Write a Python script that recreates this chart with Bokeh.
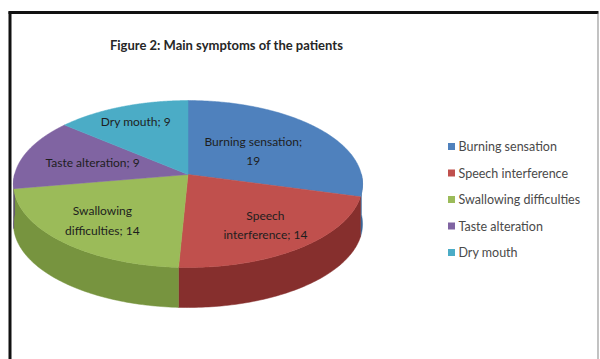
import textwrap
import numpy as np
from bokeh.plotting import figure
from bokeh.models import Range1d
from bokeh.core.properties import value
from bokeh.embed import file_html
from bokeh.resources import INLINE

# ---- data ----
title_text = "Figure 2: Main symptoms of the patients"
categories = ["Burning sensation", "Speech interference", "Swallowing difficulties",
              "Taste alteration", "Dry mouth"]
counts = [19, 14, 14, 9, 9]

# ---- style / layout ----
top_colors = ["#4F81BD", "#C0504D", "#9BBB59", "#8064A2", "#4BACC6"]
side_colors = ["#3A6596", "#862F2D", "#77943F", "#5E4A7D", "#35889F"]
label_radius = [0.49, 0.71, 0.70, 0.58, 0.77]   # radial position of labels
FONT = "Lato"

W, H = 600, 359
cx, cy = 187.5, 174.0        # projected pie centre (pixels)
A, B, k = 173.4, 82.4, 0.114  # horizontal / vertical radii and perspective
depth = 40                   # thickness of the 3D pie


def proj(theta, f=1.0):
    X = f * np.cos(theta)
    Z = f * np.sin(theta)
    w = 1 + k * Z
    return cx + A * X / w, cy - B * Z / w


p = figure(width=W, height=H, output_backend="svg", toolbar_location=None,
           x_range=Range1d(0, W), y_range=Range1d(H, 0),
           x_axis_type=None, y_axis_type=None, min_border=0)
p.outline_line_color = None
p.xgrid.visible = False
p.ygrid.visible = False
p.background_fill_color = "white"
p.border_fill_color = "white"

# frame of the original chart box
p.segment(x0=[9.5, 8], y0=[11, 12], x1=[9.5, 598], y1=[H + 5, 12],
          line_color="#111111", line_width=3)
p.segment(x0=[597.5], y0=[13], x1=[597.5], y1=[H + 5],
          line_color="#9a9a9a", line_width=1.2)

total = float(sum(counts))
cum = np.concatenate([[0], np.cumsum(counts)])
t_start = np.pi / 2 - 2 * np.pi * cum[:-1] / total
t_end = np.pi / 2 - 2 * np.pi * cum[1:] / total

# side walls (front half only)
side_xs, side_ys, side_cols = [], [], []
for i in range(len(counts)):
    hi = min(t_start[i], 0.0)
    lo = max(t_end[i], -np.pi)
    if hi <= lo:
        continue
    th = np.linspace(hi, lo, 80)
    x, y = proj(th)
    side_xs.append(list(x) + list(x[::-1]))
    side_ys.append(list(y) + list((y + depth)[::-1]))
    side_cols.append(side_colors[i])
p.patches(side_xs, side_ys, fill_color=side_cols, line_color=side_cols,
          line_width=0.5)

# top faces
top_xs, top_ys = [], []
for i in range(len(counts)):
    th = np.linspace(t_start[i], t_end[i], 160)
    x, y = proj(th)
    ax, ay = proj(0.0, 0.0)
    top_xs.append([ax] + list(x))
    top_ys.append([ay] + list(y))
p.patches(top_xs, top_ys, fill_color=top_colors, line_color=top_colors,
          line_width=0.5)

# data labels
mid = (t_start + t_end) / 2
lx, ly = [], []
for i in range(len(counts)):
    x, y = proj(mid[i], label_radius[i])
    lx.append(float(x))
    ly.append(float(y))
labels = ["\n".join(textwrap.wrap(f"{c}; {v}", 19)) for c, v in zip(categories, counts)]
p.text(x=lx, y=ly, text=labels, text_align="center", text_baseline="middle",
       text_font=value(FONT), text_font_size="12px", text_color="#1e1e1e",
       text_line_height=1.3)

# title
p.text(x=[226], y=[44], text=[title_text], text_align="center",
       text_baseline="middle", text_font=value(FONT), text_font_size="13px",
       text_font_style="bold", text_color="#262626")

# legend
leg_y = [146 + 26.5 * i for i in range(len(categories))]
p.rect(x=[451] * len(categories), y=leg_y, width=7, height=7,
       width_units="screen", height_units="screen",
       fill_color=top_colors, line_color=None)
p.text(x=[458] * len(categories), y=leg_y, text=categories, text_align="left",
       text_baseline="middle", text_font=value(FONT), text_font_size="12.5px",
       text_color="#4a4a4a")

open("out.html", "w").write(file_html(p, INLINE))
